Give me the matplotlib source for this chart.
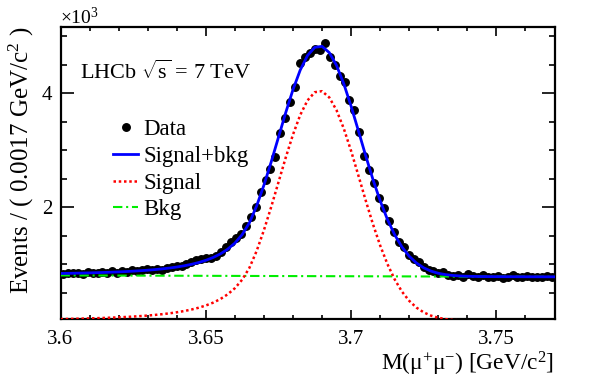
import numpy as np
import matplotlib
matplotlib.use("Agg")
import matplotlib.pyplot as plt
from matplotlib.ticker import MultipleLocator, FuncFormatter
from matplotlib.lines import Line2D

plt.rcParams['font.family'] = ['Liberation Serif', 'DejaVu Serif']
plt.rcParams['mathtext.fontset'] = 'custom'
plt.rcParams['mathtext.rm'] = 'Liberation Serif'
plt.rcParams['mathtext.it'] = 'Liberation Serif:italic'
plt.rcParams['mathtext.bf'] = 'Liberation Serif:bold'

# ---- data (in units of 10^3 events per bin) ----
bin_start = 3.6
bin_width = 0.0017
data_y = [0.82, 0.85, 0.84, 0.85, 0.83, 0.86, 0.85, 0.84, 0.86, 0.85,
          0.87, 0.85, 0.88, 0.86, 0.89, 0.87, 0.90, 0.91, 0.89, 0.92,
          0.90, 0.93, 0.95, 0.97, 0.96, 1.00, 1.04, 1.07, 1.09, 1.10,
          1.11, 1.14, 1.21, 1.30, 1.38, 1.46, 1.52, 1.66, 1.82, 2.00,
          2.26, 2.47, 2.66, 2.87, 3.29, 3.57, 3.85, 4.10, 4.53, 4.64,
          4.70, 4.78, 4.76, 4.87, 4.64, 4.50, 4.29, 4.20, 3.87, 3.71,
          3.31, 2.89, 2.65, 2.42, 2.15, 1.99, 1.75, 1.56, 1.38, 1.29,
          1.15, 1.08, 1.03, 0.95, 0.90, 0.88, 0.84, 0.86, 0.81, 0.79,
          0.80, 0.77, 0.82, 0.79, 0.78, 0.80, 0.77, 0.78, 0.79, 0.76,
          0.78, 0.80, 0.77, 0.78, 0.79, 0.77, 0.78, 0.77, 0.79, 0.78]

# ---- fit curves ----
curve_start = 3.6
curve_step = 0.0025
signal_y = [0.0340, 0.0365, 0.0393, 0.0424, 0.0459, 0.0498, 0.0541, 0.0590, 0.0645, 0.0708,
            0.0779, 0.0862, 0.0957, 0.1067, 0.1196, 0.1347, 0.1528, 0.1743, 0.2005, 0.2324,
            0.2719, 0.3215, 0.3846, 0.4668, 0.5753, 0.7237, 0.9317, 1.2286, 1.593, 2.000,
            2.433, 2.866, 3.270, 3.615, 3.870, 4.014, 4.032, 3.922, 3.697, 3.375,
            2.984, 2.555, 2.120, 1.703, 1.326, 0.9995, 0.730, 0.516, 0.354, 0.235,
            0.151, 0.094, 0.0567, 0.0331, 0.0187, 0.0103, 0.0055, 0.0028, 0.0014, 0.0007,
            0.0003, 0.0001, 0.0, 0.0, 0.0, 0.0, 0.0, 0.0, 0.0]
bkg_x = [3.6, 3.77]
bkg_y = [0.80, 0.775]

legend_labels = ["Data", "Signal+bkg", "Signal", "Bkg"]

data_x = bin_start + bin_width * (np.arange(len(data_y)) + 0.5)
curve_x = curve_start + curve_step * np.arange(len(signal_y))
bkg_curve = np.interp(curve_x, bkg_x, bkg_y)
total_y = np.array(signal_y) + bkg_curve

fig = plt.figure(figsize=(6.10, 3.81), dpi=100)
ax = fig.add_axes([60.5/610, 1 - 318.5/381, (554.5-60.5)/610, (318.5-27)/381])

green_ls = (0, (4.5, 1.8, 1.0, 1.8))
red_ls = (0, (1.0, 1.1))

ax.plot(data_x, data_y, 'o', color='black', ms=5.4, zorder=2)
ax.plot(bkg_x, bkg_y, color='#00ee00', lw=1.5, ls=green_ls, zorder=3)
ax.plot(curve_x, signal_y, color='#ff0000', lw=1.8, ls=red_ls, zorder=3)
ax.plot(curve_x, total_y, color='#0000ff', lw=2.0, zorder=4)

ax.set_xlim(3.6, 3.77)
ax.set_ylim(0.044, 5.158)

ax.xaxis.set_major_locator(MultipleLocator(0.05))
ax.xaxis.set_minor_locator(MultipleLocator(0.01))
ax.yaxis.set_major_locator(MultipleLocator(2))
ax.yaxis.set_minor_locator(MultipleLocator(0.5))
ax.xaxis.set_major_formatter(FuncFormatter(lambda v, p: f"{v:g}"))
ax.yaxis.set_major_formatter(FuncFormatter(lambda v, p: f"{v:g}"))

ax.tick_params(axis='both', which='both', direction='in', top=True, right=True,
               labelsize=15, width=1.2)
ax.tick_params(axis='y', which='major', length=9.5, pad=6)
ax.tick_params(axis='y', which='minor', length=4.5)
ax.tick_params(axis='x', which='major', length=6.5, pad=8)
ax.tick_params(axis='x', which='minor', length=3.2)
for s in ax.spines.values():
    s.set_linewidth(1.6)

ax.set_ylabel("Events / ( 0.0017 GeV/c$^{2}$ )", fontsize=18, loc='top', labelpad=4)
ax.set_xlabel("M(μ$^{+}$μ$^{-}$) [GeV/c$^{2}$]", fontsize=16.8, loc='right', labelpad=1)

fig.text(60/610, 1 - 17/381, "×10$^{3}$", fontsize=14, ha='left', va='center')
ax.text((80-60.5)/494, (318.5-72)/291.5, "LHCb $\\sqrt{\\mathrm{s}}$ = 7 TeV",
        transform=ax.transAxes, fontsize=16, ha='left', va='center')

handles = [
    Line2D([], [], ls='none', marker='o', color='black', ms=5.4),
    Line2D([], [], color='#0000ff', lw=2.0),
    Line2D([], [], color='#ff0000', lw=1.8, ls=red_ls),
    Line2D([], [], color='#00ee00', lw=1.5, ls=green_ls),
]
ax.legend(handles, legend_labels, loc='upper left',
          bbox_to_anchor=((113-60.5)/494, (318.5-119)/291.5),
          frameon=False, fontsize=16.5, handlelength=1.1, handletextpad=0.22,
          labelspacing=0.25, borderpad=0, borderaxespad=0)

fig.savefig("out.png", dpi=100)
